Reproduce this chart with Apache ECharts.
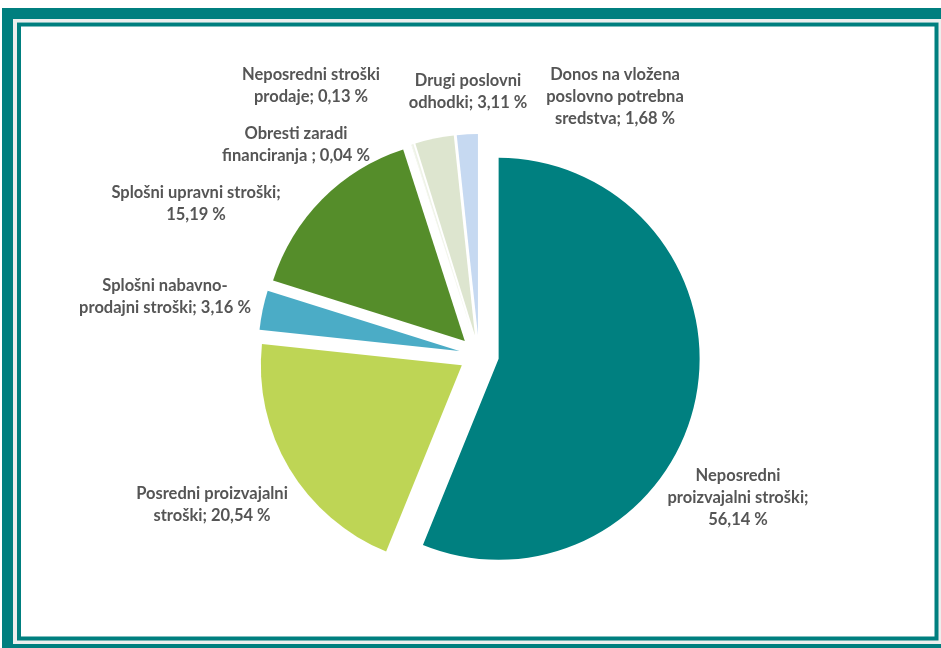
<!DOCTYPE html>
<html>
<head>
<meta charset="utf-8">
<script src="https://cdn.jsdelivr.net/npm/echarts@6/dist/echarts.min.js"></script>
<style>
  html, body { margin: 0; padding: 0; background: #ffffff; }
  #chart { width: 941px; height: 648px; }
</style>
</head>
<body>
<div id="chart"></div>
<script>
// Cost structure shares (%), clockwise from 12 o'clock
const categories = [
  'Neposredni\nproizvajalni stroški',
  'Posredni proizvajalni\nstroški',
  'Splošni nabavno-\nprodajni stroški',
  'Splošni upravni stroški',
  'Obresti zaradi\nfinanciranja',
  'Neposredni stroški\nprodaje',
  'Drugi poslovni\nodhodki',
  'Donos na vložena\nposlovno potrebna\nsredstva'
];
const values = [56.14, 20.54, 3.16, 15.19, 0.04, 0.13, 3.11, 1.68];
// text between name and value in each label
const separators = [';\n', '; ', '; ', ';\n', ' ; ', '; ', '; ', '; '];

const colors = ['#008080', '#BED555', '#4BACC6', '#558D2A', '#EEF2E6', '#EEF2E6', '#DDE5CF', '#C6D9F1'];
// label anchor points (centre of each text block)
const labelAnchors = [
  [738, 498], [212, 505], [165, 297], [196, 204],
  [296, 145], [311, 86], [468, 92], [615, 97]
];

const fmt = v => v.toFixed(2).replace('.', ',') + ' %';

const chart = echarts.init(document.getElementById('chart'), null, { renderer: 'canvas' });

const teal = '#007F7F';
const frame = [
  { type: 'rect', z: -10, shape: { x: 2, y: 8, width: 960, height: 660 }, style: { fill: teal } },
  { type: 'rect', z: -9, shape: { x: 13, y: 19, width: 940, height: 625 }, style: { fill: '#ECEFEE' } },
  { type: 'rect', z: -8, shape: { x: 17, y: 22, width: 921, height: 618 }, style: { fill: '#ffffff' } },
  { type: 'rect', z: -7, shape: { x: 19, y: 24.5, width: 917.5, height: 614 }, style: { fill: null, stroke: teal, lineWidth: 4 } }
];

// data labels, text built from the same category/value arrays as the slices
const labels = categories.map((name, i) => ({
  type: 'text',
  z: 10,
  x: labelAnchors[i][0],
  y: labelAnchors[i][1],
  style: {
    text: name + separators[i] + fmt(values[i]),
    fill: '#555555',
    font: 'bold 16.5px Lato, "Open Sans", sans-serif',
    lineHeight: 22,
    align: 'center',
    verticalAlign: 'middle'
  }
}));

chart.setOption({
  animation: false,
  backgroundColor: '#ffffff',
  graphic: frame.concat(labels),
  series: [{
    type: 'pie',
    center: [479, 355],
    radius: [0, 201],
    startAngle: 90,
    clockwise: true,
    selectedMode: 'multiple',
    selectedOffset: 20,
    itemStyle: { borderWidth: 0 },
    emphasis: { disabled: true },
    label: { show: false },
    labelLine: { show: false },
    data: categories.map((name, i) => ({
      name: name,
      value: values[i],
      selected: true,
      itemStyle: { color: colors[i] }
    }))
  }]
});
</script>
</body>
</html>
